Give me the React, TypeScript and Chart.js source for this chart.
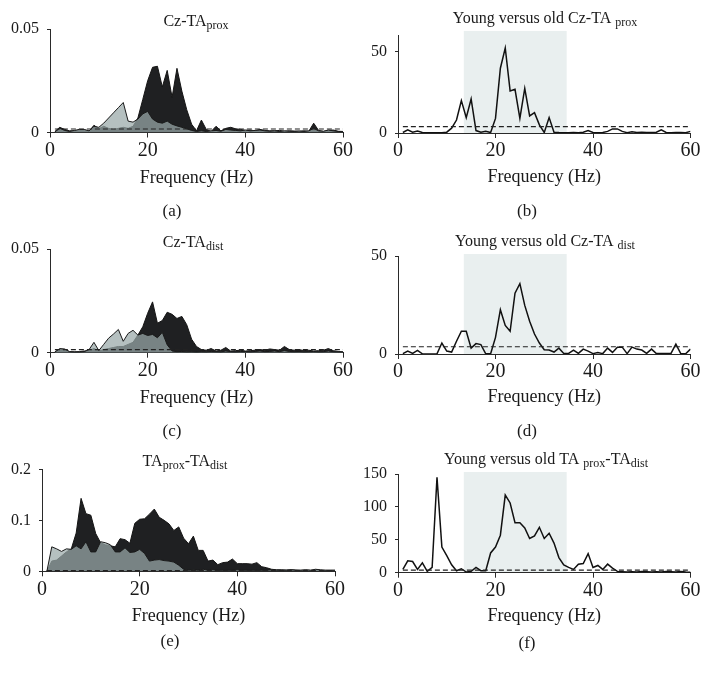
import React, { useEffect, useRef } from 'react';
import { Chart, registerables } from 'chart.js';

Chart.register(...registerables);

const SERIF = '"Liberation Serif", "Times New Roman", serif';
const TEXT = '#1a1a1a';
const AXIS = '#2a2a2a';
const DARK_FILL = '#1f2022';
const LIGHT_FILL = 'rgba(153,169,169,0.73)';
const BAND_FILL = '#e9efef';

// frequency axis (Hz)
const FREQ = [1,2,3,4,5,6,7,8,9,10,11,12,13,14,15,16,17,18,19,20,21,22,23,24,25,26,27,28,29,30,31,32,33,34,35,36,37,38,39,40,41,42,43,44,45,46,47,48,49,50,51,52,53,54,55,56,57,58,59,60];
const X_TICKS = [0, 20, 40, 60];
const BAND = [13.5, 34.6];

// (a) Cz-TAprox coherence
const CZ_PROX_DARK = [0.0005,0.0025,0.0015,0.0008,0.0008,0.0012,0.0012,0.0006,0.0035,0.0018,0.003,0.002,0.0015,0.002,0.0025,0.002,0.003,0.007,0.016,0.025,0.0315,0.032,0.022,0.030,0.017,0.031,0.020,0.011,0.004,0.0008,0.006,0.0015,0.0005,0.003,0.0008,0.002,0.0025,0.0018,0.0015,0.001,0.0012,0.0008,0.0015,0.001,0.0008,0.0008,0.001,0.0006,0.0008,0.0007,0.0006,0.0008,0.0006,0.0045,0.001,0.0005,0.001,0.0012,0.0006,0.0005];
const CZ_PROX_LIGHT = [0.0003,0.002,0.001,0.0005,0.001,0.0015,0.0015,0.0008,0.003,0.0025,0.0045,0.007,0.0095,0.012,0.0145,0.0055,0.005,0.0065,0.009,0.0102,0.0065,0.005,0.0045,0.0055,0.004,0.0032,0.0025,0.0018,0.001,0.0005,0.0008,0.0005,0.0008,0.001,0.0006,0.0015,0.0012,0.001,0.0008,0.0012,0.0008,0.001,0.0012,0.0008,0.0006,0.0008,0.0005,0.0008,0.0006,0.0005,0.0007,0.0005,0.0008,0.002,0.0008,0.0006,0.0012,0.0008,0.0005,0.0004];
const CZ_PROX_THRESHOLD = 0.0017;
const CZ_PROX_YTICKS = [0, 0.05];

// (b) young vs old Cz-TAprox
const YO_CZ_PROX = [0.3,2,0.5,1.2,0.3,0.1,0.1,0.1,0.1,0.5,3,8,20,9.5,21,1.5,0.5,1,0.3,9,40,52.5,26,27,9,27.5,10.5,12.5,5,0.3,9.5,0.5,0.3,0.2,0.1,0.3,0.2,0.5,1.5,0.3,0.2,0.3,1,2.5,2.5,1,0.2,0.8,0.3,0.5,0.3,0.3,0.5,2,0.3,0.2,0.3,0.3,0.2,1];
const YO_CZ_PROX_THRESHOLD = 3.9;
const YO_CZ_PROX_YTICKS = [0, 50];

// (c) Cz-TAdist coherence
const CZ_DIST_DARK = [0.0005,0.0015,0.0015,0.0005,0.0004,0.0005,0.0008,0.001,0.002,0.0008,0.0015,0.002,0.0025,0.003,0.003,0.004,0.005,0.0085,0.0125,0.019,0.0245,0.0142,0.0155,0.0195,0.0185,0.0165,0.0175,0.0135,0.0065,0.003,0.0015,0.0012,0.002,0.0008,0.0012,0.0025,0.0008,0.001,0.0012,0.0008,0.001,0.0012,0.0015,0.0012,0.0018,0.0015,0.0012,0.003,0.0015,0.0012,0.0015,0.001,0.0012,0.0008,0.001,0.0012,0.002,0.001,0.0006,0.0004];
const CZ_DIST_LIGHT = [0.0003,0.002,0.0018,0.0005,0.0003,0.0003,0.0005,0.0015,0.005,0.001,0.004,0.007,0.009,0.0112,0.0055,0.0093,0.0108,0.0085,0.0093,0.0083,0.0088,0.0072,0.0098,0.0038,0.0008,0.0005,0.0006,0.0004,0.0005,0.0003,0.0005,0.0004,0.0006,0.0005,0.0004,0.0008,0.0005,0.0004,0.0006,0.0005,0.0004,0.0006,0.0008,0.0005,0.0006,0.0008,0.0005,0.001,0.0006,0.0005,0.0006,0.0004,0.0005,0.0006,0.0004,0.0005,0.0008,0.0005,0.0004,0.0003];
const CZ_DIST_THRESHOLD = 0.0015;
const CZ_DIST_YTICKS = [0, 0.05];

// (d) young vs old Cz-TAdist
const YO_CZ_DIST = [0.2,1.5,0.3,1.8,0.1,0,0,0.1,5.6,1.5,1,6.5,11.6,11.6,3,5.3,4.8,0.1,0.1,8.5,22.6,14.6,11.6,31,35.9,24.8,16.7,10.2,5.6,2.2,2,1,3,0.3,0.3,2,0.3,2.5,1.5,0.2,0.8,0.2,3,0.8,3.5,3.5,0.2,3.5,2.5,2,0.3,2.5,0.2,0.2,0.2,0.3,5,0.2,0.1,2.5];
const YO_CZ_DIST_THRESHOLD = 3.7;
const YO_CZ_DIST_YTICKS = [0, 50];

// (e) TAprox-TAdist coherence
const TA_TA_DARK = [0,0.02,0.022,0.03,0.038,0.044,0.075,0.143,0.113,0.11,0.074,0.056,0.052,0.05,0.048,0.064,0.062,0.055,0.094,0.102,0.103,0.112,0.122,0.106,0.1,0.093,0.08,0.087,0.065,0.054,0.069,0.041,0.041,0.02,0.022,0.013,0.017,0.018,0.024,0.015,0.015,0.015,0.014,0.017,0.009,0.007,0.004,0.003,0.003,0.0025,0.003,0.0025,0.002,0.0025,0.002,0.003,0.002,0.002,0.002,0.002];
const TA_TA_LIGHT = [0,0.048,0.044,0.039,0.044,0.043,0.05,0.044,0.058,0.038,0.038,0.058,0.056,0.052,0.038,0.038,0.046,0.037,0.038,0.043,0.035,0.02,0.022,0.023,0.021,0.02,0.018,0.012,0.004,0.002,0.003,0.002,0.004,0.002,0.003,0.002,0.002,0.002,0.002,0.003,0.002,0.002,0.002,0.002,0.002,0.002,0.003,0.002,0.002,0.002,0.003,0.002,0.002,0.003,0.002,0.004,0.003,0.002,0.002,0.002];
const TA_TA_THRESHOLD = 0.0015;
const TA_TA_YTICKS = [0, 0.1, 0.2];

// (f) young vs old TAprox-TAdist
const YO_TA_TA = [5,18,17,5,15,2,8,145,39,26,12,3,6,1,2,8,3,3,30,39,57,118,106,76,76,68,52,56,69,52,60,45,23,12,8,5,13,14,29,8,11,5,13,7,2,1.5,1,1.5,1,2,1.5,1,1.5,1,2,1.5,1,2,1,0.5];
const YO_TA_TA_THRESHOLD = 4;
const YO_TA_TA_YTICKS = [0, 50, 100, 150];

type Seg = { t: string; sub?: boolean };

interface PanelSpec {
  key: string;
  box: { left: number; top: number; width: number; height: number };
  area: { left: number; right: number; top: number; bottom: number };
  freqY: number;
  title: Seg[];
  titleX: number;
  titleY: number;
  label: string;
  labelX: number;
  labelY: number;
  yMax: number;
  yTicks: number[];
  threshold: number;
  dark?: number[];
  light?: number[];
  line?: number[];
  bandTop?: number;
}

const PANELS: PanelSpec[] = [
  {
    key: 'a', box: { left: 0, top: 0, width: 354, height: 220 },
    area: { left: 50, right: 343, top: 29, bottom: 132.5 }, freqY: 178,
    title: [{ t: 'Cz-TA' }, { t: 'prox', sub: true }], titleX: 196, titleY: 25.5,
    label: '(a)', labelX: 172, labelY: 212,
    yMax: 0.05, yTicks: CZ_PROX_YTICKS, threshold: CZ_PROX_THRESHOLD,
    dark: CZ_PROX_DARK, light: CZ_PROX_LIGHT,
  },
  {
    key: 'b', box: { left: 354, top: 0, width: 354, height: 220 },
    area: { left: 44, right: 336.5, top: 35.8, bottom: 133 }, freqY: 177,
    title: [{ t: 'Young versus old Cz-TA ' }, { t: 'prox', sub: true }], titleX: 191, titleY: 23,
    label: '(b)', labelX: 173, labelY: 212,
    yMax: 60, yTicks: YO_CZ_PROX_YTICKS, threshold: YO_CZ_PROX_THRESHOLD,
    line: YO_CZ_PROX, bandTop: 63,
  },
  {
    key: 'c', box: { left: 0, top: 220, width: 354, height: 220 },
    area: { left: 50, right: 343, top: 29, bottom: 132.7 }, freqY: 178,
    title: [{ t: 'Cz-TA' }, { t: 'dist', sub: true }], titleX: 193, titleY: 26.5,
    label: '(c)', labelX: 172, labelY: 212,
    yMax: 0.05, yTicks: CZ_DIST_YTICKS, threshold: CZ_DIST_THRESHOLD,
    dark: CZ_DIST_DARK, light: CZ_DIST_LIGHT,
  },
  {
    key: 'd', box: { left: 354, top: 220, width: 354, height: 220 },
    area: { left: 44, right: 336.5, top: 36, bottom: 134 }, freqY: 177,
    title: [{ t: 'Young versus old Cz-TA ' }, { t: 'dist', sub: true }], titleX: 191, titleY: 25.5,
    label: '(d)', labelX: 173, labelY: 212,
    yMax: 50, yTicks: YO_CZ_DIST_YTICKS, threshold: YO_CZ_DIST_THRESHOLD,
    line: YO_CZ_DIST, bandTop: 51,
  },
  {
    key: 'e', box: { left: 0, top: 440, width: 354, height: 240 },
    area: { left: 42, right: 335, top: 29.3, bottom: 131.3 }, freqY: 176,
    title: [{ t: 'TA' }, { t: 'prox', sub: true }, { t: '-TA' }, { t: 'dist', sub: true }], titleX: 185, titleY: 25.5,
    label: '(e)', labelX: 170, labelY: 202,
    yMax: 0.2, yTicks: TA_TA_YTICKS, threshold: TA_TA_THRESHOLD,
    dark: TA_TA_DARK, light: TA_TA_LIGHT,
  },
  {
    key: 'f', box: { left: 354, top: 440, width: 354, height: 240 },
    area: { left: 44, right: 336.5, top: 34, bottom: 132.7 }, freqY: 176,
    title: [{ t: 'Young versus old TA ' }, { t: 'prox', sub: true }, { t: '-TA' }, { t: 'dist', sub: true }], titleX: 192, titleY: 24,
    label: '(f)', labelX: 173, labelY: 204,
    yMax: 150, yTicks: YO_TA_TA_YTICKS, threshold: YO_TA_TA_THRESHOLD,
    line: YO_TA_TA, bandTop: 153,
  },
];

const Y_AXIS_WIDTH = 40;
const X_TITLE_SIZE = 18;

function toPoints(values: number[]) {
  return FREQ.map((f, i) => ({ x: f, y: values[i] }));
}

function buildConfig(spec: PanelSpec): any {
  const titleHalf = (X_TITLE_SIZE * 1.2) / 2;
  const scaleBottom = spec.freqY + titleHalf;
  const xHeight = scaleBottom - spec.area.bottom;

  const datasets: any[] = [];
  datasets.push({
    label: 'threshold',
    data: [{ x: FREQ[0], y: spec.threshold }, { x: FREQ[FREQ.length - 1], y: spec.threshold }],
    borderColor: '#222',
    borderWidth: 1.2,
    borderDash: [5, 3],
    pointRadius: 0,
    fill: false,
    order: 0,
  });
  if (spec.light && spec.dark) {
    datasets.push({
      label: 'light',
      data: toPoints(spec.light),
      borderColor: '#1a1a1a',
      borderWidth: 1,
      backgroundColor: LIGHT_FILL,
      fill: 'origin',
      pointRadius: 0,
      tension: 0,
      order: 1,
    });
    datasets.push({
      label: 'dark',
      data: toPoints(spec.dark),
      borderColor: '#151515',
      borderWidth: 1,
      backgroundColor: DARK_FILL,
      fill: 'origin',
      pointRadius: 0,
      tension: 0,
      order: 2,
    });
  }
  if (spec.line) {
    datasets.push({
      label: 'line',
      data: toPoints(spec.line),
      borderColor: '#111',
      borderWidth: 1.5,
      pointRadius: 0,
      fill: false,
      tension: 0,
      order: 1,
    });
  }

  const bandPlugin = {
    id: 'band',
    beforeDraw(chart: any) {
      if (spec.bandTop === undefined) return;
      const { ctx } = chart;
      const xs = chart.scales.x;
      const ys = chart.scales.y;
      const x0 = xs.getPixelForValue(BAND[0]);
      const x1 = xs.getPixelForValue(BAND[1]);
      const y0 = ys.getPixelForValue(spec.bandTop);
      const y1 = ys.getPixelForValue(0);
      ctx.save();
      ctx.fillStyle = BAND_FILL;
      ctx.fillRect(x0, y0, x1 - x0, y1 - y0);
      ctx.restore();
    },
  };

  const textPlugin = {
    id: 'panelText',
    afterDraw(chart: any) {
      const { ctx } = chart;
      ctx.save();
      ctx.fillStyle = TEXT;
      ctx.textAlign = 'left';
      ctx.textBaseline = 'alphabetic';
      const mainFont = `16px ${SERIF}`;
      const subFont = `12px ${SERIF}`;
      let total = 0;
      const widths: number[] = [];
      for (const s of spec.title) {
        ctx.font = s.sub ? subFont : mainFont;
        const w = ctx.measureText(s.t).width;
        widths.push(w);
        total += w;
      }
      let x = spec.titleX - total / 2;
      spec.title.forEach((s, i) => {
        ctx.font = s.sub ? subFont : mainFont;
        ctx.fillText(s.t, x, spec.titleY + (s.sub ? 3 : 0));
        x += widths[i];
      });
      ctx.font = `17px ${SERIF}`;
      ctx.textAlign = 'center';
      ctx.textBaseline = 'middle';
      ctx.fillText(spec.label, spec.labelX, spec.labelY);
      ctx.restore();
    },
  };

  return {
    type: 'line',
    data: { datasets },
    plugins: [bandPlugin, textPlugin],
    options: {
      responsive: false,
      maintainAspectRatio: false,
      animation: false,
      events: [],
      layout: {
        padding: {
          left: spec.area.left - Y_AXIS_WIDTH,
          right: spec.box.width - spec.area.right,
          top: spec.area.top,
          bottom: spec.box.height - scaleBottom,
        },
      },
      plugins: {
        legend: { display: false },
        tooltip: { enabled: false },
        title: { display: false },
      },
      scales: {
        x: {
          type: 'linear',
          min: 0,
          max: 60,
          afterBuildTicks: (s: any) => { s.ticks = X_TICKS.map((v) => ({ value: v })); },
          afterFit: (s: any) => { s.height = xHeight; },
          grid: { drawOnChartArea: false, drawTicks: true, tickLength: 5, color: AXIS, lineWidth: 1 },
          border: { display: true, color: AXIS, width: 1 },
          ticks: { font: { family: SERIF, size: 20 }, color: TEXT, padding: 1, maxRotation: 0, autoSkip: false, callback: (v: any) => String(v) },
          title: { display: true, text: 'Frequency (Hz)', font: { family: SERIF, size: X_TITLE_SIZE }, color: TEXT, padding: { top: 0, bottom: 0 } },
        },
        y: {
          type: 'linear',
          min: 0,
          max: spec.yMax,
          afterBuildTicks: (s: any) => { s.ticks = spec.yTicks.map((v) => ({ value: v })); },
          afterFit: (s: any) => { s.width = Y_AXIS_WIDTH; },
          grid: { drawOnChartArea: false, drawTicks: true, tickLength: 3, color: AXIS, lineWidth: 1 },
          border: { display: true, color: AXIS, width: 1 },
          ticks: { font: { family: SERIF, size: 16 }, color: TEXT, padding: 8, callback: (v: any) => String(v) },
        },
      },
    },
  };
}

function Panel({ spec }: { spec: PanelSpec }) {
  const ref = useRef<HTMLCanvasElement>(null);
  useEffect(() => {
    if (!ref.current) return;
    const chart = new Chart(ref.current, buildConfig(spec));
    return () => chart.destroy();
  }, [spec]);
  return (
    <canvas
      ref={ref}
      width={spec.box.width}
      height={spec.box.height}
      style={{ position: 'absolute', left: spec.box.left, top: spec.box.top, width: spec.box.width, height: spec.box.height }}
    />
  );
}

export default function App() {
  return (
    <div style={{ position: 'absolute', left: 0, top: 0, width: 708, height: 680, background: '#fff' }}>
      {PANELS.map((p) => (
        <Panel key={p.key} spec={p} />
      ))}
    </div>
  );
}
